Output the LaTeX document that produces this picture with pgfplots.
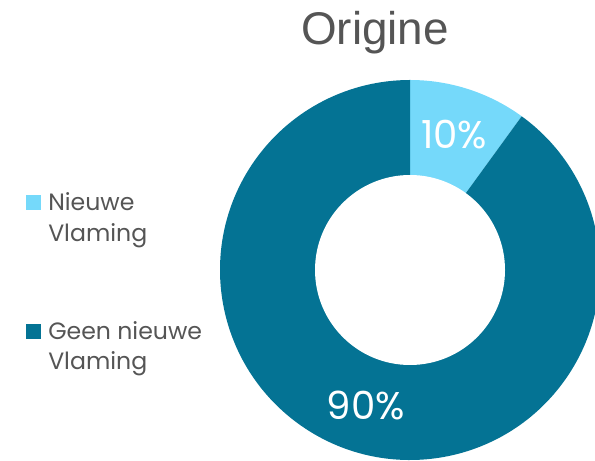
\documentclass[border=0pt]{standalone}
\usepackage{pgfplots}
\pgfplotsset{compat=1.18}
\usepackage{pgfplotstable}
\usepackage{fontspec}
\setmainfont{Poppins}
\newfontfamily\titlefont{Liberation Sans}

\definecolor{nieuw}{HTML}{75D9FA}
\definecolor{geen}{HTML}{047394}
\definecolor{txt}{HTML}{555555}

% aandeel per groep (%)
\pgfplotstableread{
groep value
nieuw 10
geen 90
}\origine

\begin{document}
\begin{tikzpicture}
\pgfplotstablegetelem{0}{value}\of\origine \let\va\pgfplotsretval
\pgfplotstablegetelem{1}{value}\of\origine \let\vb\pgfplotsretval
\pgfmathsetmacro\total{\va+\vb}
\pgfmathsetmacro\aend{90-360*\va/\total}
\pgfmathsetmacro\ma{(90+\aend)/2}
\pgfmathsetmacro\mb{(\aend+90-360)/2}
\def\cx{10.25}\def\cy{4.775}
\def\R{4.75}\def\r{2.375}
\pgfmathsetmacro\rm{(\R+\r)/2}
\useasboundingbox (0,0) rectangle (14.875,11.525);
\begin{axis}[
    x=1cm, y=1cm,
    xmin=0, xmax=14.875,
    ymin=0, ymax=11.525,
    scale only axis,
    hide axis,
    clip=true,
]
% ring
\fill[nieuw] (axis cs:\cx,\cy) -- ++(90:\R) arc[start angle=90, end angle=\aend, radius=\R] -- cycle;
\fill[geen] (axis cs:\cx,\cy) -- ++(\aend:\R) arc[start angle=\aend, end angle=-270, radius=\R] -- cycle;
\fill[white] (axis cs:\cx,\cy) circle[radius=\r];

% percentages
\node[text=white, font=\fontsize{27.5}{32}\selectfont, inner sep=0]
    at (axis cs:{\cx+\rm*cos(\ma)},{\cy+\rm*sin(\ma)}) {\va\%};
\node[text=white, font=\fontsize{27.5}{32}\selectfont, inner sep=0]
    at (axis cs:{\cx+\rm*cos(\mb)},{\cy+\rm*sin(\mb)}) {\vb\%};

% title
\node[anchor=base, inner sep=0, text=txt, font=\titlefont\fontsize{32.6}{36}\selectfont]
    at (axis cs:9.375,10.4) {Origine};

% legend
\fill[nieuw] (axis cs:0.65,6.275) rectangle (axis cs:1.025,6.65);
\fill[geen] (axis cs:0.65,3.05) rectangle (axis cs:1.025,3.425);
\node[anchor=base west, inner sep=0, text=txt, font=\fontsize{16.8}{20}\selectfont]
    at (axis cs:1.2,6.2575) {Nieuwe};
\node[anchor=base west, inner sep=0, text=txt, font=\fontsize{16.8}{20}\selectfont]
    at (axis cs:1.2,5.4825) {Vlaming};
\node[anchor=base west, inner sep=0, text=txt, font=\fontsize{16.8}{20}\selectfont]
    at (axis cs:1.2,3.0425) {Geen nieuwe};
\node[anchor=base west, inner sep=0, text=txt, font=\fontsize{16.8}{20}\selectfont]
    at (axis cs:1.2,2.275) {Vlaming};
\end{axis}
\end{tikzpicture}
\end{document}
